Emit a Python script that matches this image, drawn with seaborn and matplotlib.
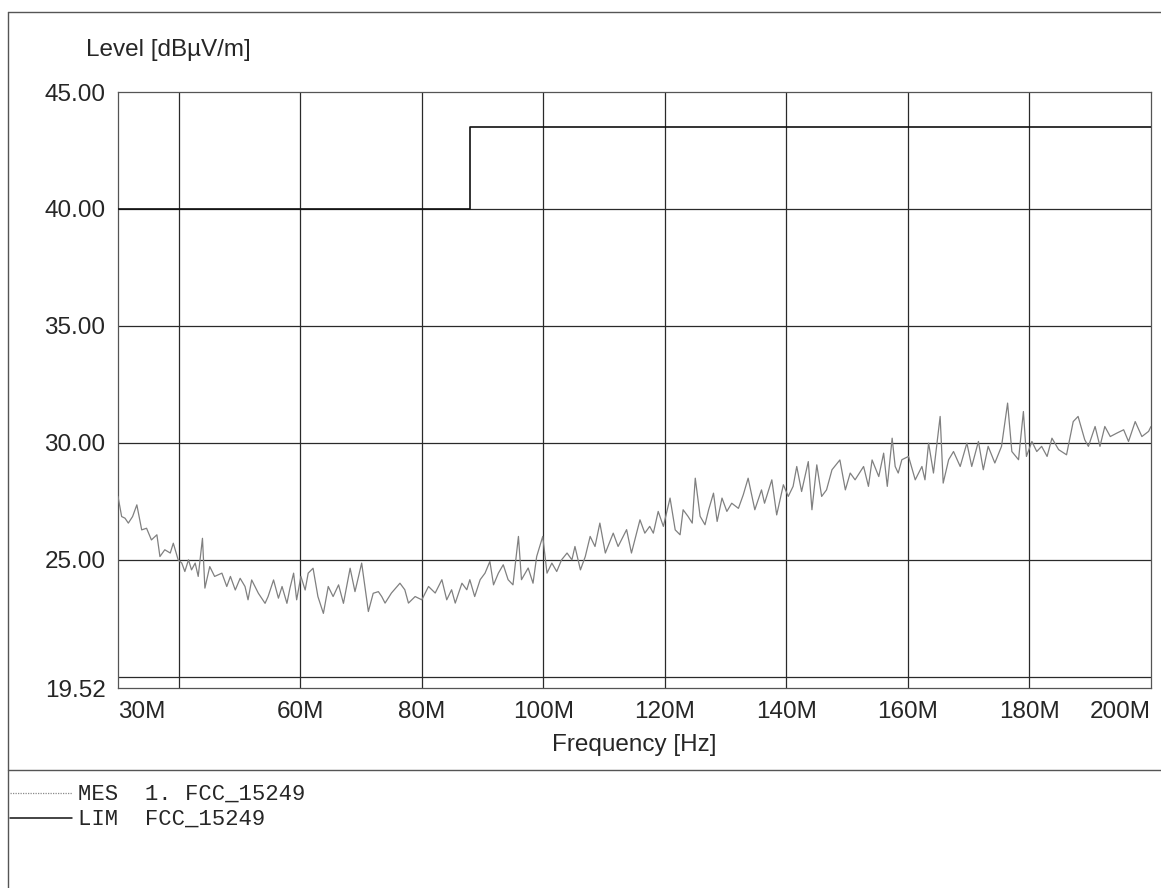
import matplotlib
matplotlib.use("Agg")
import matplotlib.pyplot as plt
from matplotlib.lines import Line2D
import seaborn as sns
import pandas as pd

# ---------------- data ----------------
mes_freq_mhz = [
    30.0, 30.6, 31.15, 31.7, 32.4, 33.1, 33.9, 34.7, 35.5, 36.4, 36.9, 37.7, 38.6, 39.1, 39.9,
    40.5, 41.0, 41.6, 42.1, 42.7, 43.2, 43.9, 44.3, 45.1, 45.9, 47.1, 47.9, 48.5, 49.3, 50.1,
    50.9, 51.4, 52.0, 53.1, 54.2, 54.7, 55.6, 56.4, 57.0, 57.8, 58.3, 58.9, 59.4, 60.1, 60.8,
    61.3, 62.1, 62.9, 63.8, 64.6, 65.4, 66.3, 67.1, 68.2, 69.0, 70.1, 71.2, 72.0, 72.85, 73.4,
    73.95, 75.0, 76.4, 77.2, 77.8, 78.9, 80.0, 81.1, 82.2, 83.3, 84.1, 84.9, 85.5, 86.6, 87.4,
    87.9, 88.7, 89.6, 90.4, 91.2, 91.8, 92.6, 93.4, 94.2, 95.0, 95.9, 96.4, 97.5, 98.3, 98.9,
    99.9, 100.6, 101.4, 102.2, 103.0, 103.9, 104.7, 105.2, 106.1, 106.9, 107.7, 108.5, 109.3, 110.2, 111.5,
    112.3, 113.7, 114.5, 115.9, 116.7, 117.5, 118.1, 118.9, 119.75, 120.85, 121.7, 122.5, 123.0, 123.8, 124.5,
    125.0, 125.8, 126.6, 127.2, 128.0, 128.6, 129.4, 130.2, 131.0, 132.1, 132.9, 133.7, 134.8, 135.9, 136.4,
    137.6, 138.4, 139.5, 140.3, 141.1, 141.7, 142.5, 143.6, 144.2, 145.0, 145.8, 146.6, 147.5, 148.8, 149.7,
    150.5, 151.3, 152.7, 153.5, 154.1, 155.2, 156.0, 156.6, 157.4, 157.9, 158.4, 159.0, 160.1, 161.2, 162.3,
    162.8, 163.4, 164.2, 165.3, 165.8, 166.7, 167.5, 168.6, 169.7, 170.5, 171.6, 172.4, 173.2, 174.3, 175.4,
    176.4, 177.1, 178.2, 179.0, 179.5, 180.4, 181.2, 182.0, 182.9, 183.7, 184.8, 186.1, 187.2, 188.0, 189.1,
    189.7, 190.8, 191.6, 192.4, 193.3, 194.4, 195.5, 196.3, 197.4, 198.5, 199.6, 200.0,
]
mes_level_dbuv = [
    27.71, 26.85, 26.78, 26.57, 26.85, 27.35, 26.28, 26.35, 25.85, 26.07, 25.14, 25.43, 25.29, 25.71, 25.00,
    24.86, 24.50, 25.00, 24.57, 24.86, 24.29, 25.92, 23.79, 24.71, 24.29, 24.43, 23.86, 24.29, 23.71, 24.21,
    23.86, 23.29, 24.14, 23.57, 23.14, 23.43, 24.14, 23.36, 23.86, 23.14, 23.79, 24.43, 23.29, 24.29, 23.71,
    24.43, 24.64, 23.43, 22.71, 23.86, 23.43, 23.93, 23.14, 24.64, 23.64, 24.86, 22.79, 23.57, 23.64, 23.43,
    23.15, 23.58, 24.00, 23.72, 23.15, 23.43, 23.29, 23.86, 23.58, 24.15, 23.29, 23.72, 23.15, 24.00, 23.72,
    24.15, 23.43, 24.15, 24.43, 24.93, 23.93, 24.43, 24.79, 24.15, 23.93, 26.00, 24.15, 24.65, 24.00, 25.14,
    26.00, 24.43, 24.86, 24.50, 25.00, 25.29, 25.00, 25.57, 24.57, 25.14, 26.00, 25.57, 26.57, 25.29, 26.14,
    25.57, 26.29, 25.29, 26.71, 26.14, 26.43, 26.14, 27.07, 26.43, 27.64, 26.28, 26.07, 27.14, 26.86, 26.57,
    28.49, 26.86, 26.50, 27.14, 27.85, 26.64, 27.64, 27.07, 27.42, 27.20, 27.78, 28.49, 27.14, 27.99, 27.42,
    28.42, 26.92, 28.21, 27.71, 28.14, 28.99, 27.92, 29.20, 27.14, 29.06, 27.71, 27.99, 28.85, 29.27, 27.99,
    28.71, 28.42, 28.99, 28.14, 29.27, 28.56, 29.56, 28.14, 30.20, 28.99, 28.71, 29.28, 29.42, 28.42, 28.99,
    28.42, 29.99, 28.71, 31.13, 28.28, 29.28, 29.63, 28.99, 29.99, 28.99, 30.06, 28.85, 29.85, 29.14, 29.85,
    31.70, 29.63, 29.28, 31.34, 29.42, 30.06, 29.63, 29.85, 29.42, 30.20, 29.71, 29.49, 30.91, 31.13, 30.13,
    29.85, 30.70, 29.85, 30.70, 30.27, 30.42, 30.56, 30.06, 30.91, 30.27, 30.49, 30.70,
]
lim_freq_mhz = [30.0, 88.0, 88.0, 200.0]
lim_level_dbuv = [40.0, 40.0, 43.5, 43.5]

x_tick_values = [30, 60, 80, 100, 120, 140, 160, 180, 200]
x_tick_labels = ["30M", "60M", "80M", "100M", "120M", "140M", "160M", "180M", "200M"]
x_grid_values = [40, 60, 80, 100, 120, 140, 160, 180]
y_tick_values = [19.52, 25.0, 30.0, 35.0, 40.0, 45.0]
y_tick_labels = ["19.52", "25.00", "30.00", "35.00", "40.00", "45.00"]
y_grid_values = [20, 25, 30, 35, 40]

legend_names = ["MES", "LIM"]
legend_texts = ["1. FCC_15249", "FCC_15249"]

# ---------------- styling ----------------
sns.set_style("white")
plt.rcParams["font.family"] = ["Liberation Sans", "DejaVu Sans"]

W, H = 1161, 888
fig = plt.figure(figsize=(W / 100, H / 100), dpi=100)
ax = fig.add_axes([118 / W, 1 - 688 / H, (1151 - 118) / W, (688 - 92) / H])

mes_df = pd.DataFrame({"freq": mes_freq_mhz, "level": mes_level_dbuv})
lim_df = pd.DataFrame({"freq": lim_freq_mhz, "level": lim_level_dbuv})

sns.lineplot(data=mes_df, x="freq", y="level", ax=ax, color="#808080",
             linewidth=0.9, estimator=None, sort=False, zorder=3)
sns.lineplot(data=lim_df, x="freq", y="level", ax=ax, color="#111111",
             linewidth=1.2, estimator=None, sort=False, zorder=4)

ax.set_xlim(30, 200)
ax.set_ylim(19.52, 45.0)

ax.xaxis.remove_overlapping_locs = False
ax.yaxis.remove_overlapping_locs = False
ax.set_xticks(x_tick_values)
ax.set_xticklabels(x_tick_labels, fontsize=17.5)
ax.set_yticks(y_tick_values)
ax.set_yticklabels(y_tick_labels, fontsize=17.5)
ax.set_xticks(x_grid_values, minor=True)
ax.set_yticks(y_grid_values, minor=True)
ax.grid(False)
ax.grid(which="minor", color="#2a2a2a", linewidth=0.9)
ax.tick_params(which="both", length=0)
ax.tick_params(axis="x", pad=9)
ax.tick_params(axis="y", pad=9)
xl = ax.get_xticklabels()
xl[0].set_ha("left")
xl[-1].set_ha("right")

for s in ax.spines.values():
    s.set_color("#555555")
    s.set_linewidth(0.9)

ax.set_xlabel("")
ax.set_ylabel("")
fig.text(86 / W, 1 - 50 / H, "Level [dBµV/m]", fontsize=17.5, ha="left", va="center")
fig.text(634 / W, 1 - 745 / H, "Frequency [Hz]", fontsize=17.5, ha="center", va="center")

# outer frame and separator
fig.add_artist(Line2D([8 / W, 8 / W], [0, 1 - 12 / H], color="#555555", linewidth=1.0))
fig.add_artist(Line2D([8 / W, 1], [1 - 12 / H, 1 - 12 / H], color="#555555", linewidth=1.0))
fig.add_artist(Line2D([8 / W, 1], [1 - 770 / H, 1 - 770 / H], color="#555555", linewidth=1.0))

# legend block
mono = ["Liberation Mono", "DejaVu Sans Mono"]
fig.add_artist(Line2D([10 / W, 72 / W], [1 - 793 / H, 1 - 793 / H], color="#8a8a8a",
                      linewidth=0.9, linestyle=(0, (1, 1))))
fig.add_artist(Line2D([10 / W, 72 / W], [1 - 818 / H, 1 - 818 / H], color="#111111", linewidth=1.1))
fig.text(78 / W, 1 - 794 / H, f"{legend_names[0]}  {legend_texts[0]}", family=mono,
         fontsize=16, ha="left", va="center")
fig.text(78 / W, 1 - 819 / H, f"{legend_names[1]}  {legend_texts[1]}", family=mono,
         fontsize=16, ha="left", va="center")

fig.savefig("out.png", dpi=100)
